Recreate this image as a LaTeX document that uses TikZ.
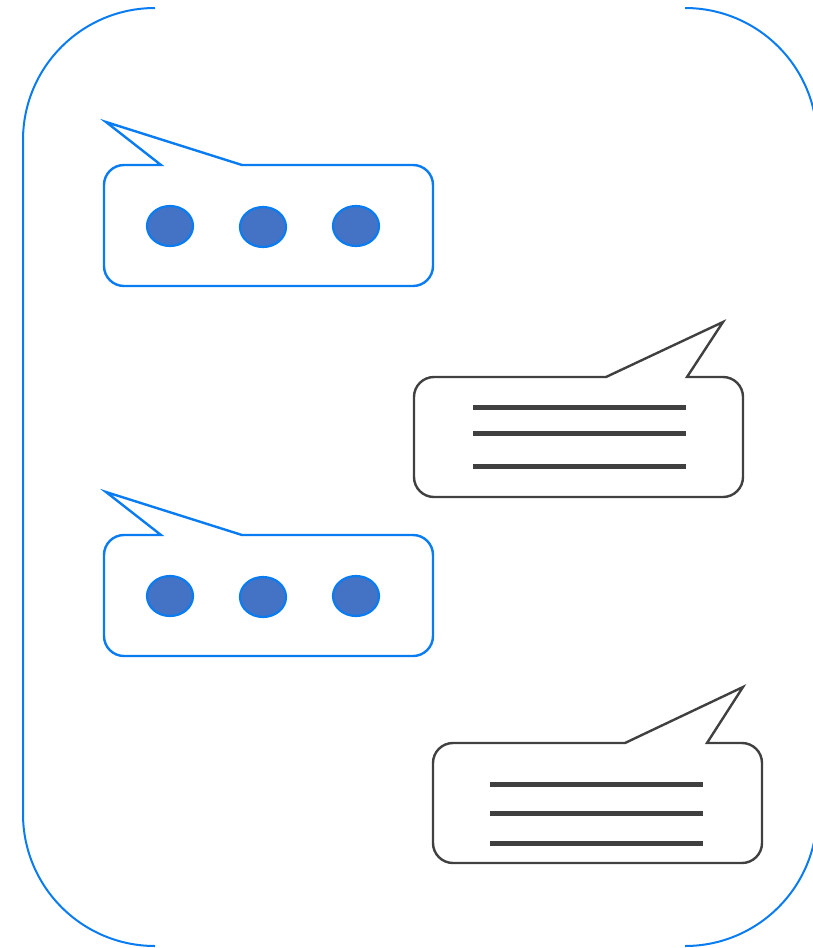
\documentclass[tikz,border=0pt]{standalone}
\usepackage{tikz}
\definecolor{bblue}{HTML}{0A7CF2}
\definecolor{dotfill}{HTML}{4472C4}
\definecolor{dgray}{HTML}{404040}
\tikzset{
  frame/.style={draw=bblue, line width=2pt},
  bluebub/.style={draw=bblue, line width=2.4pt, line join=miter},
  graybub/.style={draw=dgray, line width=2.4pt, line join=miter},
  dot/.style={draw=bblue, fill=dotfill, line width=2.2pt},
  txtline/.style={draw=dgray, line width=4.5pt},
}
\begin{document}
\begin{tikzpicture}[x=1pt,y=-1pt]
\useasboundingbox (0,0) rectangle (812,948);
% outer frame
\draw[frame] (155,8) arc[start angle=270,end angle=180,radius=132] -- (23,814)
  arc[start angle=180,end angle=90,radius=132];
\draw[frame] (685,8) arc[start angle=270,end angle=360,radius=132] -- (817,814)
  arc[start angle=0,end angle=90,radius=132];
% blue bubbles
\foreach \oy/\nm in {165/b1,535/b3}{
\begin{scope}[shift={(104,\oy)}]
\draw[bluebub] (138,0) -- (2,-43) -- (57,0) -- (20,0)
  arc[start angle=270,end angle=180,radius=20] -- (0,101)
  arc[start angle=180,end angle=90,radius=20] -- (309,121)
  arc[start angle=90,end angle=0,radius=20] -- (329,20)
  arc[start angle=0,end angle=-90,radius=20] -- cycle;
\draw[dot] (66,61) ellipse[x radius=23,y radius=20];
\draw[dot] (159,62) ellipse[x radius=23,y radius=20];
\draw[dot] (252,61) ellipse[x radius=23,y radius=20];
\end{scope}
}
% gray bubble 2
\begin{scope}[shift={(414,377)}]
\draw[graybub] (192,0) -- (309,-55) -- (273,0) -- (309,0)
  arc[start angle=-90,end angle=0,radius=20] -- (329,100)
  arc[start angle=0,end angle=90,radius=20] -- (20,120)
  arc[start angle=90,end angle=180,radius=20] -- (0,20)
  arc[start angle=180,end angle=270,radius=20] -- cycle;
\end{scope}
\draw[txtline] (473,407.5) -- (686,407.5);
\draw[txtline] (473,433.5) -- (686,433.5);
\draw[txtline] (473,466.5) -- (686,466.5);
% gray bubble 4
\begin{scope}[shift={(433,743)}]
\draw[graybub] (192,0) -- (310,-56) -- (274,0) -- (309,0)
  arc[start angle=-90,end angle=0,radius=20] -- (329,100)
  arc[start angle=0,end angle=90,radius=20] -- (20,120)
  arc[start angle=90,end angle=180,radius=20] -- (0,20)
  arc[start angle=180,end angle=270,radius=20] -- cycle;
\end{scope}
\draw[txtline] (490,784.5) -- (703,784.5);
\draw[txtline] (490,813.5) -- (703,813.5);
\draw[txtline] (490,843.5) -- (703,843.5);
\end{tikzpicture}
\end{document}
